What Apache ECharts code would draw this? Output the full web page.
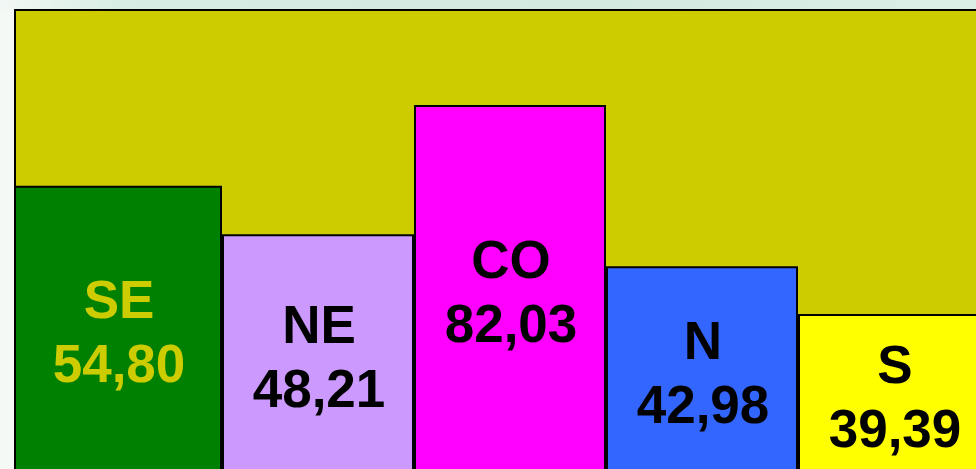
<!DOCTYPE html>
<html>
<head>
<meta charset="utf-8">
<script src="https://cdn.jsdelivr.net/npm/echarts@6/dist/echarts.min.js"></script>
<style>
  html, body { margin: 0; padding: 0; }
  body {
    width: 976px; height: 469px; overflow: hidden;
    background: #f4f9f6 linear-gradient(to right, #f2f8f5 0px, #d8ede3 120px, #d3eae0 600px, #dcefe6 976px) no-repeat;
    background-size: 976px 10px;
  }
  #chart { width: 976px; height: 469px; }
</style>
</head>
<body>
<div id="chart"></div>
<script>
// regiões
var regions = ['SE', 'NE', 'CO', 'N', 'S'];
// valores escritos nas barras
var labelValues = [54.80, 48.21, 82.03, 42.98, 39.39];
// altura visual das barras (o desenho original nao esta em escala)
var barHeights = [62.6, 52.3, 79.8, 45.5, 35.3];
var barColors = ['#008000', '#cc99ff', '#ff00ff', '#3366ff', '#ffff00'];
var labelColors = ['#cccc00', '#000', '#000', '#000', '#000'];

function fmt(v) {
  return v.toFixed(2).replace('.', ',');
}

function item(i) {
  return {
    name: regions[i],
    value: barHeights[i],
    itemStyle: { color: barColors[i] },
    label: { color: labelColors[i] }
  };
}

var labelOpt = {
  show: true,
  position: 'inside',
  offset: [1, 3],
  fontFamily: '"Liberation Sans", Arial, sans-serif',
  fontWeight: 'bold',
  fontSize: 53,
  lineHeight: 64,
  formatter: function (p) {
    var i = regions.indexOf(p.name);
    return p.name + '\n' + fmt(labelValues[i]);
  }
};

var chart = echarts.init(document.getElementById('chart'));
chart.setOption({
  animation: false,
  backgroundColor: 'transparent',
  graphic: [{
    type: 'rect', z: -10, silent: true,
    shape: { x: 15, y: 10, width: 990, height: 490 },
    style: { fill: '#cccc00', stroke: '#000', lineWidth: 2 }
  }],
  grid: [
    { left: 14, top: 10, width: 208, height: 470, outerBoundsMode: 'none' },
    { left: 222, top: 10, width: 768, height: 470, outerBoundsMode: 'none' }
  ],
  xAxis: [
    { gridIndex: 0, type: 'category', data: regions.slice(0, 1), show: false },
    { gridIndex: 1, type: 'category', data: regions.slice(1), show: false }
  ],
  yAxis: [
    { gridIndex: 0, type: 'value', min: 0, max: 100, show: false, splitLine: { show: false } },
    { gridIndex: 1, type: 'value', min: 0, max: 100, show: false, splitLine: { show: false } }
  ],
  series: [
    {
      type: 'bar', xAxisIndex: 0, yAxisIndex: 0,
      barCategoryGap: 0, barWidth: '100%',
      itemStyle: { borderColor: '#000', borderWidth: 2 },
      label: labelOpt,
      data: [item(0)]
    },
    {
      type: 'bar', xAxisIndex: 1, yAxisIndex: 1,
      barCategoryGap: 0, barWidth: '100%',
      itemStyle: { borderColor: '#000', borderWidth: 2 },
      label: labelOpt,
      data: [item(1), item(2), item(3), item(4)]
    }
  ]
});
</script>
</body>
</html>
